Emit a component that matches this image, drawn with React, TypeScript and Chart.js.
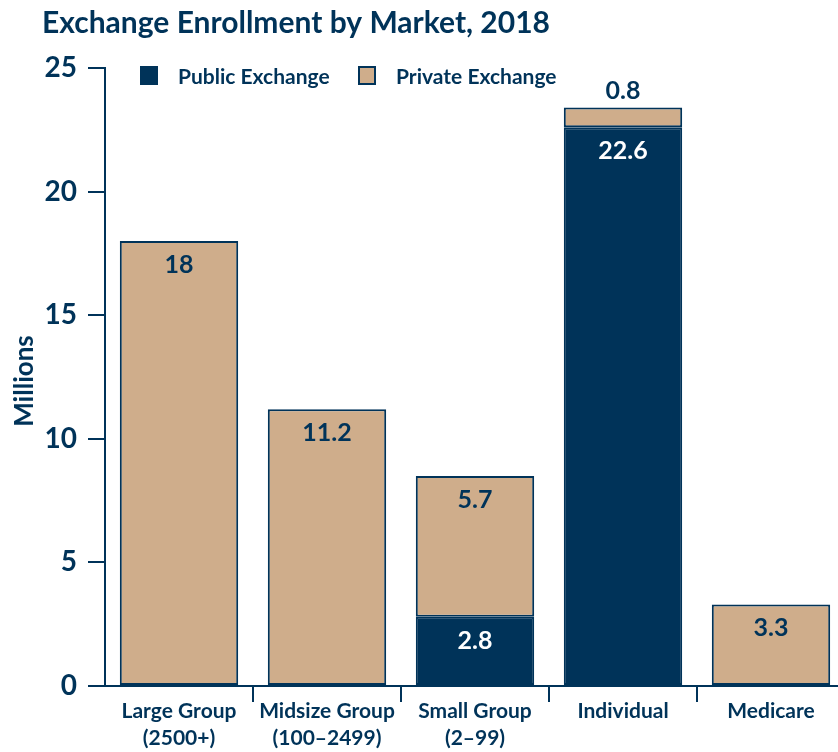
import React, { useEffect, useRef } from "react";
import { Chart, registerables } from "chart.js";

Chart.register(...registerables);

const categories: (string | string[])[] = [
  ["Large Group", "(2500+)"],
  ["Midsize Group", "(100–2499)"],
  ["Small Group", "(2–99)"],
  "Individual",
  "Medicare",
];
const publicExchange: (number | null)[] = [null, null, 2.8, 22.6, null];
const privateExchange: (number | null)[] = [18, 11.2, 5.7, 0.8, 3.3];
const yTicks = [0, 5, 10, 15, 20, 25];

const NAVY = "#003359";
const TAN = "#CFAD8B";
const FONT = "Lato, 'Open Sans', sans-serif";

const overlayPlugin = {
  id: "overlay",
  afterDraw(chart: any) {
    const ctx = chart.ctx;
    ctx.save();
    // Title
    ctx.fillStyle = NAVY;
    ctx.font = `bold 30px ${FONT}`;
    ctx.textAlign = "left";
    ctx.textBaseline = "alphabetic";
    ctx.fillText("Exchange Enrollment by Market, 2018", 42, 33);

    // Y axis title
    ctx.save();
    ctx.translate(33, 381);
    ctx.rotate(-Math.PI / 2);
    ctx.textAlign = "center";
    ctx.textBaseline = "alphabetic";
    ctx.font = `bold 26px ${FONT}`;
    ctx.fillText("Millions", 0, 0);
    ctx.restore();

    // Legend
    const items = [
      { label: chart.data.datasets[0].label, fill: NAVY, x: 140 },
      { label: chart.data.datasets[1].label, fill: TAN, x: 358 },
    ];
    ctx.font = `bold 21px ${FONT}`;
    ctx.textBaseline = "alphabetic";
    items.forEach((it) => {
      ctx.fillStyle = it.fill;
      ctx.fillRect(it.x, 66, 18, 19);
      ctx.strokeStyle = NAVY;
      ctx.lineWidth = 2;
      ctx.strokeRect(it.x + 1, 67, 16, 17);
      ctx.fillStyle = NAVY;
      ctx.fillText(it.label, it.x + 38, 84);
    });

    // Data labels
    ctx.font = `bold 25px ${FONT}`;
    ctx.textAlign = "center";
    ctx.textBaseline = "middle";
    chart.data.datasets.forEach((ds: any, di: number) => {
      const meta = chart.getDatasetMeta(di);
      meta.data.forEach((el: any, i: number) => {
        const v = ds.data[i];
        if (v == null) return;
        const top = Math.min(el.y, el.base);
        const h = Math.abs(el.base - el.y);
        let y = top + 24;
        let color = di === 0 ? "#ffffff" : NAVY;
        if (h < 30) {
          y = top - 17;
          color = NAVY;
        }
        ctx.fillStyle = color;
        ctx.fillText(String(v), el.x, y);
      });
    });
    ctx.restore();
  },
};

export default function App() {
  const ref = useRef<HTMLCanvasElement | null>(null);
  useEffect(() => {
    if (!ref.current) return;
    const chart = new Chart(ref.current, {
      type: "bar",
      data: {
        labels: categories,
        datasets: [
          {
            label: "Public Exchange",
            data: publicExchange,
            backgroundColor: NAVY,
            borderColor: NAVY,
            borderWidth: 2,
            borderSkipped: false,
            categoryPercentage: 0.8,
            barPercentage: 1,
          },
          {
            label: "Private Exchange",
            data: privateExchange,
            backgroundColor: TAN,
            borderColor: NAVY,
            borderWidth: 2,
            borderSkipped: false,
            categoryPercentage: 0.8,
            barPercentage: 1,
          },
        ],
      },
      options: {
        responsive: false,
        animation: false,
        devicePixelRatio: 1,
        layout: { padding: { top: 68, right: 5, left: 0, bottom: 0 } },
        plugins: {
          legend: { display: false },
          tooltip: { enabled: false },
          title: { display: false },
        },
        scales: {
          x: {
            stacked: true,
            grid: {
              drawOnChartArea: false,
              offset: true,
              tickLength: 16,
              lineWidth: 2,
              color: (c: any) => (c.index === 0 ? "rgba(0,0,0,0)" : NAVY),
            },
            border: { display: true, color: NAVY, width: 2 },
            ticks: {
              color: NAVY,
              font: { family: FONT, size: 21, weight: "bold", lineHeight: 1.28 },
              padding: -4,
              maxRotation: 0,
            },
            afterFit: (s: any) => {
              s.height = 66;
            },
          },
          y: {
            stacked: true,
            min: 0,
            max: 25,
            afterBuildTicks: (s: any) => {
              s.ticks = yTicks.map((v) => ({ value: v }));
            },
            grid: {
              drawOnChartArea: false,
              tickLength: 17,
              lineWidth: 2,
              color: NAVY,
            },
            border: { display: true, color: NAVY, width: 2 },
            ticks: {
              color: NAVY,
              font: { family: FONT, size: 28, weight: "bold" },
              padding: 11,
            },
            afterFit: (s: any) => {
              s.width = 105;
            },
          },
        },
      },
      plugins: [overlayPlugin],
    });
    return () => chart.destroy();
  }, []);
  return (
    <div
      style={{
        position: "fixed",
        left: 0,
        top: 0,
        width: 838,
        height: 752,
        overflow: "hidden",
        background: "#fff",
      }}
    >
      <canvas ref={ref} width={850} height={752} style={{ display: "block" }} />
    </div>
  );
}
